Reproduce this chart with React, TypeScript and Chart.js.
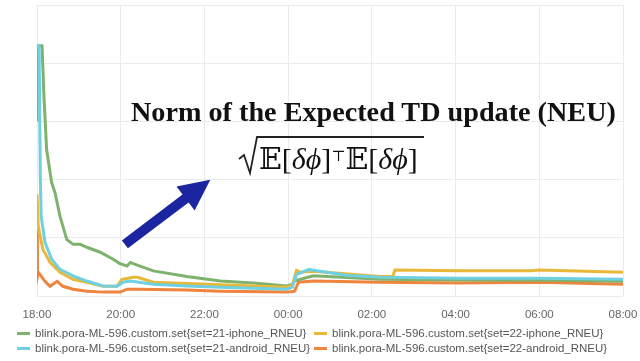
import React, { useEffect, useRef } from "react";
import { Chart, registerables } from "chart.js";

Chart.register(...registerables);

// hours since 18:00
const tickLabels = ["18:00", "20:00", "22:00", "00:00", "02:00", "04:00", "06:00", "08:00"];

const seriesNames = [
  "blink.pora-ML-596.custom.set{set=21-iphone_RNEU}",
  "blink.pora-ML-596.custom.set{set=22-iphone_RNEU}",
  "blink.pora-ML-596.custom.set{set=21-android_RNEU}",
  "blink.pora-ML-596.custom.set{set=22-android_RNEU}",
];
const seriesColors = ["#7EB26D", "#EAB839", "#6ED0E0", "#EF843C"];

const greenT = [0, 0.03, 0.12, 0.17, 0.23, 0.35, 0.43, 0.55, 0.71, 0.86, 1.03, 1.19, 1.51, 1.82, 1.97, 2.15, 2.23, 2.41, 2.78, 3.58, 4.38, 5.17, 5.97, 6.1, 6.15, 6.3, 6.6, 8.2, 10.1, 12, 14];
const greenV = [60, 86, 86, 67.5, 50.3, 39, 35.6, 27.4, 19.5, 17.8, 17.8, 16.8, 15.1, 12.7, 11.3, 10.4, 11.6, 10.6, 8.7, 6.8, 5.2, 4.5, 3.5, 4.1, 5.2, 5.8, 7.0, 5.8, 5.6, 5.5, 5.1];

const blueT = [0, 0.05, 0.08, 0.1, 0.19, 0.35, 0.55, 0.86, 1.19, 1.58, 1.91, 2.06, 2.23, 2.78, 3.58, 4.38, 5.97, 6.1, 6.2, 6.5, 6.6, 7.4, 8.2, 10.1, 12, 14];
const blueV = [86, 86, 40, 27.4, 18.5, 12.7, 9.2, 7.0, 5.2, 3.5, 3.4, 4.8, 5.2, 4.1, 3.5, 3.1, 2.4, 3.1, 7.5, 9.2, 8.9, 7.2, 6.5, 6.2, 6.2, 5.8];

const yellowT = [0, 0.03, 0.14, 0.31, 0.55, 0.86, 1.19, 1.58, 1.91, 2.03, 2.3, 2.4, 2.78, 5.97, 6.1, 6.2, 6.3, 6.6, 8.2, 8.5, 8.55, 10.1, 11.8, 12, 14];
const yellowV = [35, 24, 16.1, 11.6, 8.2, 5.8, 4.8, 3.4, 3.4, 5.8, 6.5, 6.5, 4.8, 3.1, 3.8, 8.9, 8.2, 8.6, 6.8, 6.8, 9.0, 8.7, 8.7, 9.0, 8.2];

const orangeT = [0, 0.01, 0.03, 0.07, 0.19, 0.31, 0.48, 0.62, 0.86, 1.2, 1.58, 1.99, 2.15, 2.42, 3.58, 4.38, 5.97, 6.15, 6.25, 6.6, 8.2, 10.1, 12, 14];
const orangeV = [23, 6.8, 8.2, 7.5, 5.1, 3.4, 5.1, 3.4, 2.4, 1.7, 1.4, 1.4, 2.4, 2.4, 2.1, 1.7, 1.4, 1.7, 4.8, 5.2, 4.8, 4.5, 4.8, 4.1];

// annotation arrow, in data coordinates (hours, value)
const arrowFrom = { x: 2.1, y: 17.8 };
const arrowTo = { x: 4.14, y: 40 };

const pts = (t: number[], v: number[]) => t.map((x, i) => ({ x, y: v[i] }));

const arrowPlugin = {
  id: "arrow",
  afterDatasetsDraw(chart: any) {
    const { ctx, scales } = chart;
    const x1 = scales.x.getPixelForValue(arrowFrom.x);
    const y1 = scales.y.getPixelForValue(arrowFrom.y);
    const x2 = scales.x.getPixelForValue(arrowTo.x);
    const y2 = scales.y.getPixelForValue(arrowTo.y);
    const ang = Math.atan2(y2 - y1, x2 - x1);
    const headLen = 31;
    const headW = 15;
    const bx = x2 - headLen * Math.cos(ang);
    const by = y2 - headLen * Math.sin(ang);
    ctx.save();
    ctx.strokeStyle = "#1b25a0";
    ctx.fillStyle = "#1b25a0";
    ctx.lineWidth = 10;
    ctx.lineCap = "butt";
    ctx.beginPath();
    ctx.moveTo(x1, y1);
    ctx.lineTo(bx + 2 * Math.cos(ang), by + 2 * Math.sin(ang));
    ctx.stroke();
    ctx.beginPath();
    ctx.moveTo(x2, y2);
    ctx.lineTo(bx + headW * Math.sin(ang), by - headW * Math.cos(ang));
    ctx.lineTo(bx - headW * Math.sin(ang), by + headW * Math.cos(ang));
    ctx.closePath();
    ctx.fill();
    ctx.restore();
  },
};

export default function App() {
  const ref = useRef<HTMLCanvasElement | null>(null);
  useEffect(() => {
    if (!ref.current) return;
    const mk = (i: number, t: number[], v: number[], order: number) => ({
      label: seriesNames[i],
      data: pts(t, v),
      borderColor: seriesColors[i],
      backgroundColor: seriesColors[i],
      borderWidth: 3,
      pointRadius: 0,
      tension: 0,
      fill: false,
      order,
    });
    const chart = new Chart(ref.current, {
      type: "line",
      data: {
        datasets: [
          mk(0, greenT, greenV, 2),
          mk(1, yellowT, yellowV, 1),
          mk(2, blueT, blueV, 0),
          mk(3, orangeT, orangeV, 3),
        ],
      },
      options: {
        animation: false,
        responsive: false,
        maintainAspectRatio: false,
        layout: { padding: { left: 37, right: 17, top: 5, bottom: 27 } },
        plugins: { legend: { display: false }, tooltip: { enabled: false } },
        scales: {
          x: {
            type: "linear",
            min: 0,
            max: 14,
            afterFit: (scale: any) => {
              scale.paddingLeft = 0;
              scale.paddingRight = 0;
            },
            ticks: {
              stepSize: 2,
              color: "#666",
              padding: 12,
              font: { family: "Liberation Sans, Arial, sans-serif", size: 11.5 },
              callback: (v: any) => tickLabels[Math.round(Number(v) / 2)] ?? "",
              maxRotation: 0,
              autoSkip: false,
            },
            grid: { color: "#ebebeb", drawTicks: false },
            border: { display: false },
          },
          y: {
            min: 0,
            max: 100,
            ticks: { stepSize: 20, display: false },
            grid: { color: "#ebebeb", drawTicks: false },
            border: { display: false },
          },
        },
      },
      plugins: [arrowPlugin],
    });
    return () => chart.destroy();
  }, []);

  const legendItem = (i: number, left: number, top: number) => (
    <div
      key={i}
      style={{
        position: "absolute",
        left,
        top,
        display: "flex",
        alignItems: "center",
        fontFamily: "Liberation Sans, Arial, sans-serif",
        fontSize: 11.5,
        color: "#555",
        whiteSpace: "nowrap",
        lineHeight: "14px",
      }}
    >
      <span style={{ display: "inline-block", width: 13, height: 3, background: seriesColors[i], marginRight: 5 }} />
      {seriesNames[i]}
    </div>
  );

  return (
    <div style={{ position: "fixed", left: 0, top: 0, width: 640, height: 361, background: "#fff", overflow: "hidden" }}>
      <canvas ref={ref} width={640} height={361} style={{ position: "absolute", left: 0, top: 0 }} />
      <div
        style={{
          position: "absolute",
          left: 131,
          top: 97,
          fontFamily: "Liberation Serif, 'Times New Roman', serif",
          fontWeight: "bold",
          fontSize: 28.2,
          color: "#111",
          whiteSpace: "nowrap",
          lineHeight: "30px",
        }}
      >
        Norm of the Expected TD update (NEU)
      </div>
      <svg width={640} height={361} style={{ position: "absolute", left: 0, top: 0 }}>
        <polyline
          points="239,159 244,155 250,173 257,137 424,137"
          fill="none"
          stroke="#222"
          strokeWidth={1.8}
          strokeLinejoin="miter"
        />
      </svg>
      <div
        style={{
          position: "absolute",
          left: 259,
          top: 139,
          fontFamily: "Liberation Serif, 'DejaVu Serif', serif",
          fontSize: 30,
          color: "#111",
          whiteSpace: "nowrap",
          lineHeight: "34px",
        }}
      >
        𝔼[<i>δϕ</i>]<sup style={{ fontSize: 15, fontStyle: "normal", verticalAlign: "8px" }}>⊤</sup>𝔼[<i>δϕ</i>]
      </div>
      {legendItem(0, 17, 326)}
      {legendItem(2, 17, 341)}
      {legendItem(1, 314, 326)}
      {legendItem(3, 314, 341)}
    </div>
  );
}
